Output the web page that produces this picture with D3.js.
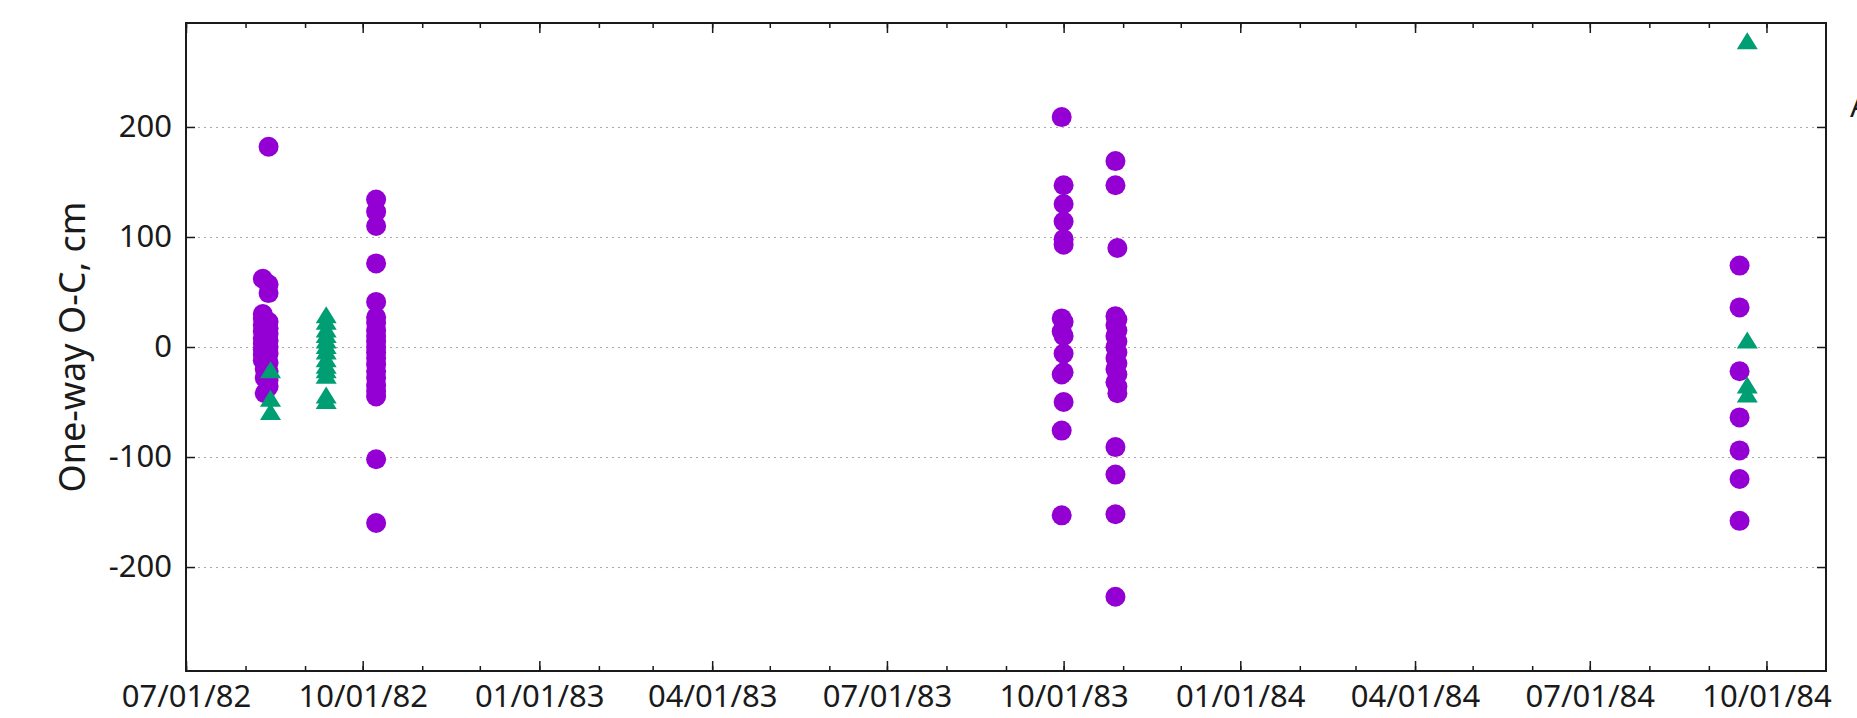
<!DOCTYPE html>
<html lang="en">
<head>
    <meta charset="UTF-8">
    <script src="https://d3js.org/d3.v7.min.js" charset="utf-8"></script>
    <title>One-way O-C</title>
    <style>
        html, body { margin: 0; padding: 0; background: #fff; overflow: hidden; }
        svg { display: block; font-family: "Noto Sans", sans-serif; }
        .grid line { stroke: #a8a8a8; stroke-width: 1; stroke-dasharray: 2, 4; }
    </style>
</head>
<body>
<div id="chart"></div>
<script>
    const width = 1857;
    const height = 718;

    // axis ticks
    const yTicks = [-200, -100, 0, 100, 200];
    const xTickDates = ["1982-07-01", "1982-10-01", "1983-01-01", "1983-04-01", "1983-07-01",
        "1983-10-01", "1984-01-01", "1984-04-01", "1984-07-01", "1984-10-01"];
    const xDomain = ["1982-07-01", "1984-11-01"];
    const yDomain = [-294.5, 294.5];

    // purple circles: [date, O-C in cm]
    const circlePoints = [
        ["1982-08-10", 62], ["1982-08-10", 30], ["1982-08-10", 26], ["1982-08-10", 20], ["1982-08-10", 14],
        ["1982-08-10", 8], ["1982-08-10", 3], ["1982-08-10", -2], ["1982-08-10", -7], ["1982-08-10", -12],
        ["1982-08-11", -20], ["1982-08-11", -28], ["1982-08-11", -42],
        ["1982-08-13", 182], ["1982-08-13", 57], ["1982-08-13", 49], ["1982-08-13", 23], ["1982-08-13", 17],
        ["1982-08-13", 12], ["1982-08-13", 6], ["1982-08-13", 0], ["1982-08-13", -6], ["1982-08-13", -14],
        ["1982-08-13", -22], ["1982-08-13", -30], ["1982-08-13", -36],
        ["1982-10-08", 134], ["1982-10-08", 123], ["1982-10-08", 110], ["1982-10-08", 76], ["1982-10-08", 41],
        ["1982-10-08", 27], ["1982-10-08", 22], ["1982-10-08", 15], ["1982-10-08", 10], ["1982-10-08", 5],
        ["1982-10-08", 0], ["1982-10-08", -5], ["1982-10-08", -10], ["1982-10-08", -16], ["1982-10-08", -22],
        ["1982-10-08", -28], ["1982-10-08", -35], ["1982-10-08", -40], ["1982-10-08", -45],
        ["1982-10-08", -102], ["1982-10-08", -160],
        ["1983-09-30", 209], ["1983-09-30", 26], ["1983-09-30", 14], ["1983-09-30", -25], ["1983-09-30", -76],
        ["1983-09-30", -153],
        ["1983-10-01", 147], ["1983-10-01", 130], ["1983-10-01", 114], ["1983-10-01", 98], ["1983-10-01", 93],
        ["1983-10-01", 23], ["1983-10-01", 10], ["1983-10-01", -6], ["1983-10-01", -23], ["1983-10-01", -50],
        ["1983-10-28", 169], ["1983-10-28", 147], ["1983-10-28", 28], ["1983-10-28", 20], ["1983-10-28", 10],
        ["1983-10-28", 0], ["1983-10-28", -10], ["1983-10-28", -20], ["1983-10-28", -32], ["1983-10-28", -91],
        ["1983-10-28", -116], ["1983-10-28", -152], ["1983-10-28", -227],
        ["1983-10-29", 90], ["1983-10-29", 25], ["1983-10-29", 15], ["1983-10-29", 5], ["1983-10-29", -5],
        ["1983-10-29", -15], ["1983-10-29", -25], ["1983-10-29", -36], ["1983-10-29", -42],
        ["1984-09-17", 74], ["1984-09-17", 36], ["1984-09-17", -22], ["1984-09-17", -64], ["1984-09-17", -94],
        ["1984-09-17", -120], ["1984-09-17", -158]
    ];

    // green triangles: [date, O-C in cm]
    const trianglePoints = [
        ["1982-08-14", -22], ["1982-08-14", -48], ["1982-08-14", -60],
        ["1982-09-12", 28], ["1982-09-12", 22], ["1982-09-12", 15], ["1982-09-12", 10], ["1982-09-12", 5],
        ["1982-09-12", 0], ["1982-09-12", -5], ["1982-09-12", -12], ["1982-09-12", -18], ["1982-09-12", -22],
        ["1982-09-12", -27], ["1982-09-12", -45], ["1982-09-12", -50],
        ["1984-09-21", 277], ["1984-09-21", 5], ["1984-09-21", -36], ["1984-09-21", -44]
    ];

    const parseDate = d3.timeParse("%Y-%m-%d");
    const plot = {left: 186, right: 1826, top: 23, bottom: 671};

    const x = d3.scaleTime()
        .domain(xDomain.map(parseDate))
        .range([plot.left, plot.right]);
    const y = d3.scaleLinear()
        .domain(yDomain)
        .range([plot.bottom, plot.top]);

    const svg = d3.select("#chart").append("svg")
        .attr("width", width)
        .attr("height", height);

    // dotted horizontal grid
    svg.append("g")
        .attr("class", "grid")
        .attr("transform", `translate(${plot.left},0)`)
        .call(d3.axisLeft(y).tickValues(yTicks).tickSize(-(plot.right - plot.left)).tickFormat(""))
        .call(g => g.select(".domain").remove());

    const majorDates = xTickDates.map(parseDate);
    const minorDates = d3.timeMonth.range(x.domain()[0], x.domain()[1]);

    const styleAxis = g => {
        g.select(".domain").remove();
        g.selectAll("line").attr("stroke", "#1a1a1a").attr("stroke-width", 1.5);
        g.selectAll("text").attr("fill", "#1a1a1a").attr("font-size", 31)
            .attr("font-family", "'Noto Sans', sans-serif");
    };

    // bottom axis: monthly minor ticks, quarterly labelled ticks
    svg.append("g")
        .attr("transform", `translate(0,${plot.bottom})`)
        .call(d3.axisBottom(x).tickValues(minorDates).tickSize(-5).tickFormat(""))
        .call(styleAxis);
    svg.append("g")
        .attr("transform", `translate(0,${plot.bottom})`)
        .call(d3.axisBottom(x).tickValues(majorDates).tickSize(-10).tickPadding(14)
            .tickFormat(d3.timeFormat("%m/%d/%y")))
        .call(styleAxis);

    // mirrored top ticks
    svg.append("g")
        .attr("transform", `translate(0,${plot.top})`)
        .call(d3.axisTop(x).tickValues(minorDates).tickSize(-5).tickFormat(""))
        .call(styleAxis);
    svg.append("g")
        .attr("transform", `translate(0,${plot.top})`)
        .call(d3.axisTop(x).tickValues(majorDates).tickSize(-10).tickFormat(""))
        .call(styleAxis);

    // left and right y ticks (plain hyphen for negatives, as in the original)
    svg.append("g")
        .attr("transform", `translate(${plot.left},0)`)
        .call(d3.axisLeft(y).tickValues(yTicks).tickSize(-9).tickPadding(14).tickFormat(d => String(d)))
        .call(styleAxis);
    svg.append("g")
        .attr("transform", `translate(${plot.right},0)`)
        .call(d3.axisRight(y).tickValues(yTicks).tickSize(-9).tickFormat(""))
        .call(styleAxis);

    // border
    svg.append("rect")
        .attr("x", plot.left)
        .attr("y", plot.top)
        .attr("width", plot.right - plot.left)
        .attr("height", plot.bottom - plot.top)
        .attr("fill", "none")
        .attr("stroke", "#1a1a1a")
        .attr("stroke-width", 2);

    // points
    svg.append("g").selectAll("circle")
        .data(circlePoints)
        .join("circle")
        .attr("cx", d => x(parseDate(d[0])))
        .attr("cy", d => y(d[1]))
        .attr("r", 10)
        .attr("fill", "#9400D3");

    const tri = "M0,-10L10.5,7L-10.5,7Z";
    svg.append("g").selectAll("path")
        .data(trianglePoints)
        .join("path")
        .attr("d", tri)
        .attr("transform", d => `translate(${x(parseDate(d[0]))},${y(d[1])})`)
        .attr("fill", "#009E73");

    // y axis title
    svg.append("text")
        .attr("transform", `translate(85,${(plot.top + plot.bottom) / 2}) rotate(-90)`)
        .attr("text-anchor", "middle")
        .attr("font-size", 36)
        .attr("fill", "#1a1a1a")
        .text("One-way O-C, cm");

    // key text, cut off by the right edge just like the original
    svg.append("text")
        .attr("x", 1850)
        .attr("y", 117)
        .attr("font-size", 31)
        .attr("fill", "#1a1a1a")
        .text("A");
</script>
</body>
</html>
